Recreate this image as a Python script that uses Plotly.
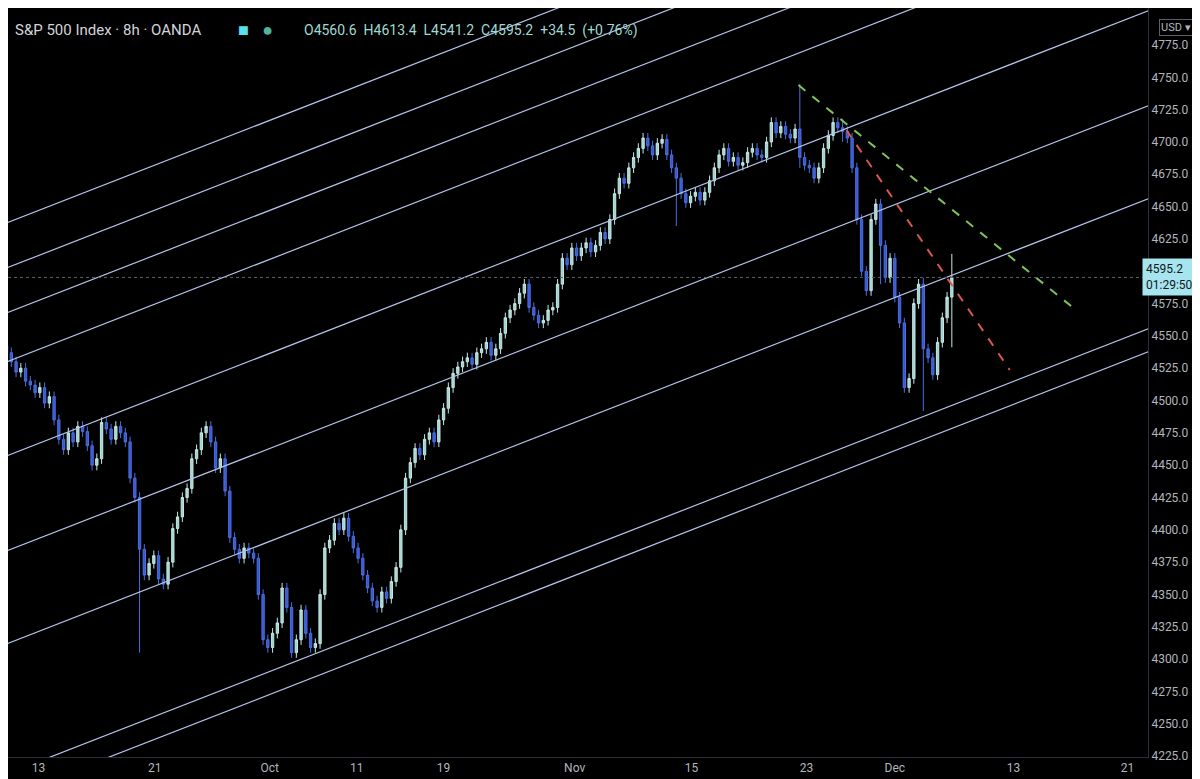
import plotly.graph_objects as go

# 8h closes, one per bar (bar index = x)
closes = [
    4537, 4530, 4522, 4525, 4515, 4512, 4506, 4510, 4498, 4503,
    4485, 4470, 4462, 4475, 4468, 4480, 4476, 4465, 4450, 4455,
    4483, 4478, 4470, 4480, 4475, 4468, 4440, 4425, 4385, 4365,
    4374, 4380, 4362, 4358, 4375, 4401, 4410, 4425, 4432, 4455,
    4462, 4475, 4480, 4468, 4448, 4455, 4430, 4394, 4385, 4378,
    4386, 4382, 4378, 4350, 4315, 4309, 4320, 4328, 4355, 4340,
    4305, 4315, 4338, 4320, 4309, 4312, 4350, 4386, 4392, 4405,
    4400, 4409, 4395, 4386, 4378, 4365, 4355, 4345, 4340, 4352,
    4347, 4360, 4371, 4400, 4440, 4452, 4463, 4458, 4470, 4475,
    4468, 4485, 4494, 4510, 4521, 4526, 4530, 4533, 4528, 4537,
    4540, 4545, 4535, 4540, 4552, 4564, 4570, 4575, 4583, 4590,
    4572, 4566, 4560, 4562, 4570, 4572, 4590, 4610, 4605, 4618,
    4612, 4618, 4622, 4615, 4620, 4630, 4625, 4640, 4660, 4672,
    4668, 4680, 4688, 4695, 4703, 4697, 4690, 4699, 4702, 4690,
    4680, 4672, 4660, 4653, 4658, 4661, 4655, 4661, 4670, 4680,
    4690, 4695, 4685, 4688, 4682, 4684, 4692, 4695, 4690, 4688,
    4700, 4715, 4707, 4712, 4706, 4703, 4710, 4688, 4682, 4680,
    4672, 4680, 4695, 4705, 4715, 4711, 4708, 4703, 4680, 4640,
    4600, 4585, 4640, 4652, 4620, 4595, 4610, 4580, 4560, 4510,
    4517, 4575, 4590, 4540, 4533, 4520, 4545, 4564, 4580, 4595.2,
]
first_open = 4542
# notable long wicks: bar -> (high, low)
spikes = {28: (4392, 4305), 167: (4745, 4680), 176: (4718, 4700), 184: (4655, 4590),
          193: (4595, 4492), 199: (4613.4, 4541.2), 141: (4676, 4635)}

tick_pos = [6.7, 31.2, 55.4, 73.7, 92, 119.6, 144.2, 168.4, 187, 212, 236]
tick_text = ["13", "21", "Oct", "11", "19", "Nov", "15", "23", "Dec", "13", "21"]
# price ticks (4600 sits under the last-price label)
price_ticks = [v for v in range(4225, 4801, 25) if v != 4600]

# parallel channel lines: price at bar 0, slope per bar
channel_start = [4637.3, 4602.5, 4567.7, 4529.8, 4457.1, 4383.6, 4311.7, 4211.1, 4193.3]
channel_slope = 1.433
green_dash = ([166.7, 224.6], [4744, 4571.6])
red_dash = ([176.8, 211.2], [4709.2, 4523.6])
last_price = 4595.2

opens = [first_open] + closes[:-1]
highs, lows = [], []
for i, (o, c) in enumerate(zip(opens, closes)):
    h, l = max(o, c) + 4, min(o, c) - 4
    if i in spikes:
        h, l = max(h, spikes[i][0]), min(l, spikes[i][1])
    highs.append(h)
    lows.append(l)

fig = go.Figure()
x0, x1 = 0.3, 240.3
for p in channel_start:
    fig.add_trace(go.Scatter(x=[x0 - 2, x1 + 2], y=[p + channel_slope * (x0 - 2), p + channel_slope * (x1 + 2)],
                             mode="lines", line=dict(color="#b3c3ea", width=1.2),
                             hoverinfo="skip", showlegend=False))

fig.add_trace(go.Candlestick(
    x=list(range(len(closes))), open=opens, high=highs, low=lows, close=closes,
    increasing=dict(line=dict(color="#c4e8e4", width=1), fillcolor="#9fd3d0"),
    decreasing=dict(line=dict(color="#4a6ee0", width=1), fillcolor="#3957d4"),
    whiskerwidth=0, showlegend=False))

fig.add_trace(go.Scatter(x=green_dash[0], y=green_dash[1], mode="lines",
                         line=dict(color="#7fc25a", width=2, dash="dash"), showlegend=False))
fig.add_trace(go.Scatter(x=red_dash[0], y=red_dash[1], mode="lines",
                         line=dict(color="#d9574f", width=2, dash="dash"), showlegend=False))

fig.add_hline(y=last_price, line=dict(color="#5d606b", width=1, dash="dot"))

fig.update_layout(
    width=1200, height=779,
    paper_bgcolor="#000000", plot_bgcolor="#000000",
    margin=dict(l=0, r=60, t=0, b=30),
    font=dict(family="Roboto", color="#b2b5be", size=12),
    xaxis=dict(range=[x0, x1], tickvals=tick_pos, ticktext=tick_text, showgrid=False,
               zeroline=False, rangeslider=dict(visible=False), ticks="",
               showline=True, linecolor="#2a2e39"),
    yaxis=dict(side="right", range=[4224.3, 4803.6], tickvals=price_ticks, tickformat=".1f",
               showgrid=False, zeroline=False, showline=True, linecolor="#2a2e39",
               ticks="", ticklabelposition="outside"),
    annotations=[
        dict(x=0.004, y=0.985, xref="paper", yref="paper", xanchor="left", yanchor="top",
             showarrow=False, text="S&P 500 Index · 8h · OANDA",
             font=dict(size=15, color="#d1d4dc")),
        dict(x=0.2, y=0.988, xref="paper", yref="paper", xanchor="left", yanchor="top",
             showarrow=False, text="<span style='color:#56e3f0'>■</span>   <span style='color:#4fb3a0'>●</span>",
             font=dict(size=18)),
        dict(x=0.258, y=0.984, xref="paper", yref="paper", xanchor="left", yanchor="top",
             showarrow=False,
             text="O4560.6  H4613.4  L4541.2  C4595.2  +34.5  (+0.76%)",
             font=dict(size=14, color="#9fd9d3")),
        dict(x=1.0, y=last_price, xref="paper", yref="y", xanchor="left", yanchor="middle",
             showarrow=False, text="4595.2<br>01:29:50", align="left", xshift=-6,
             bgcolor="#a6e4ee", font=dict(size=12, color="#131722"), borderpad=3),
        dict(x=1.01, y=0.985, xref="paper", yref="paper", xanchor="left", yanchor="top",
             showarrow=False, text="USD ▾", bordercolor="#5d606b", borderwidth=1,
             font=dict(size=11, color="#b2b5be"), bgcolor="#000000"),
    ],
)

fig.write_html("out.html")
